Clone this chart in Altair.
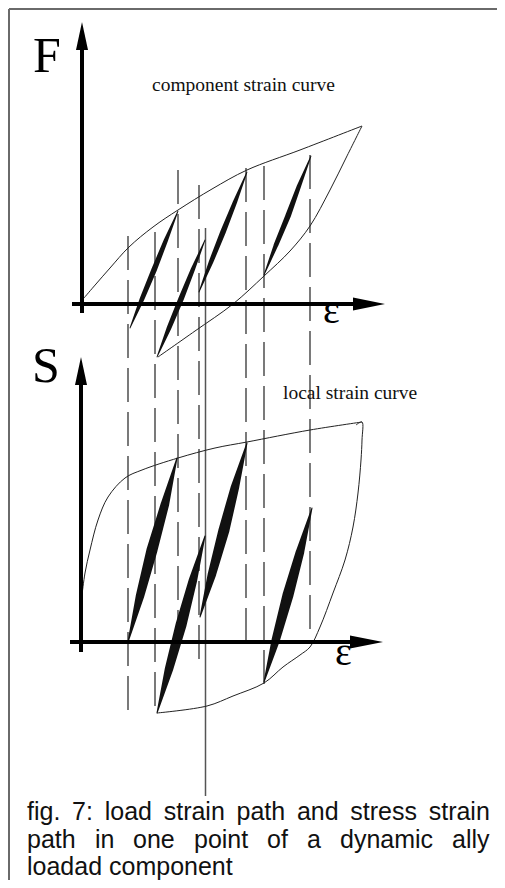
import altair as alt
import pandas as pd

# ---------------------------------------------------------------
# Chart space: one data unit = one pixel of the reference picture
# (x to the right, y downwards), starting at the page margin (8px)
# ---------------------------------------------------------------
X_DOMAIN = [8, 497]
Y_DOMAIN = [8, 880]
W = X_DOMAIN[1] - X_DOMAIN[0]
H = Y_DOMAIN[1] - Y_DOMAIN[0]

# ---- envelope curves (thin solid lines) ------------------------
top_upper_x = [84, 96, 110, 129, 153, 178, 212, 247, 300, 362]
top_upper_y = [298, 284, 268, 247, 227, 210, 189, 170, 150, 126]
top_lower_x = [158, 195, 233, 264, 290, 310, 330, 346, 362]
top_lower_y = [357, 331, 304, 276, 251, 226, 190, 158, 126]
bot_upper_x = [82, 85, 90, 98, 108, 125, 142, 178, 215, 247, 310, 362]
bot_upper_y = [595, 573, 550, 520, 497, 478, 470, 458, 448, 442, 430, 422]
bot_lower_x = [356, 362, 362, 361, 358, 353, 345, 333, 320, 310, 300, 283, 264, 233, 207, 157]
bot_lower_y = [425, 422, 440, 460, 493, 527, 560, 593, 627, 647, 655, 667, 683, 696, 706, 713]

# ---- small hysteresis loops (filled black lenses) --------------
# centre line points and loop width at each point
lens_top1_x = [130, 142, 154, 166, 178]
lens_top1_y = [328, 299, 270, 240, 211]
lens_top2_x = [157, 169, 181, 193, 205]
lens_top2_y = [357, 328, 299, 269, 240]
lens_top3_x = [199, 211, 223, 235, 247]
lens_top3_y = [292, 262, 232, 202, 172]
lens_top4_x = [264, 276, 288, 299, 311]
lens_top4_y = [275, 245, 216, 186, 156]
lens_top_w = [0.8, 4.6, 5.6, 4.3, 0.8]

lens_bot1_x = [128, 140, 152, 165, 177]
lens_bot1_y = [642, 596, 550, 504, 458]
lens_bot2_x = [157, 169, 181, 193, 205]
lens_bot2_y = [713, 669, 625, 580, 536]
lens_bot3_x = [200, 212, 224, 235, 247]
lens_bot3_y = [617, 574, 530, 487, 443]
lens_bot4_x = [264, 276, 288, 300, 312]
lens_bot4_y = [682, 639, 595, 552, 508]
lens_bot_w = [1.0, 8.5, 11.0, 8.5, 1.0]

# ---- axes (shafts and arrow heads) -----------------------------
shaft_x1 = [82, 72, 81, 70]
shaft_y1 = [48, 304, 383, 642]
shaft_x2 = [82, 356, 81, 352]
shaft_y2 = [313, 304, 652, 642]

arrow_up_id = ["F", "F", "S", "S"]
arrow_up_y = [22, 50, 357, 385]
arrow_up_xl = [82, 76, 81, 75]
arrow_up_xr = [82, 88, 81, 87]

arrow_right_id = ["eF", "eF", "eS", "eS"]
arrow_right_x = [353, 385, 350, 383]
arrow_right_yt = [297.5, 304, 635.5, 642]
arrow_right_yb = [310.5, 304, 648.5, 642]

# ---- projection lines ------------------------------------------
dash_x = [128, 155, 178, 199, 246, 264, 310]
dash_top = [236, 232, 170, 185, 168, 166, 155]
dash_bottom = [713, 713, 650, 663, 647, 693, 637]
solid_x = [205.5]
solid_top = [228]
solid_bottom = [796]

# ---- frame -----------------------------------------------------
frame_x1 = [9, 9]
frame_y1 = [9, 9]
frame_x2 = [497, 9]
frame_y2 = [9, 880]

# ---- texts -----------------------------------------------------
big_label = ["F", "S"]
big_label_x = [33, 32]
big_label_y = [72, 382]
eps_label = ["ε", "ε"]
eps_x = [323, 335]
eps_y = [323, 665]
curve_titles = ["component strain curve", "local strain curve"]
curve_titles_x = [152, 283]
curve_titles_y = [91, 399]

caption_words = ["fig.", "7:", "load", "strain", "path", "and", "stress", "strain",
                 "path", "in", "one", "point", "of", "a", "dynamic", "ally",
                 "loadad component"]
caption_x = [27, 72, 104.7, 163.7, 236.5, 296.9, 350.3, 428.7,
             27, 95, 133, 194, 267, 307, 340, 452,
             27]
caption_y = [820] * 8 + [848] * 8 + [875]

# ---------------------------------------------------------------
xs = alt.Scale(domain=X_DOMAIN, nice=False, zero=False)
ys = alt.Scale(domain=Y_DOMAIN, nice=False, zero=False, reverse=True)


def X(f="x"):
    return alt.X(f"{f}:Q", scale=xs, axis=None)


def Y(f="y"):
    return alt.Y(f"{f}:Q", scale=ys, axis=None)


def curve_frame(name, xv, yv):
    return pd.DataFrame({"curve": name, "x": xv, "y": yv, "i": range(len(xv))})


curves = pd.concat([
    curve_frame("top_upper", top_upper_x, top_upper_y),
    curve_frame("top_lower", top_lower_x, top_lower_y),
    curve_frame("bot_upper", bot_upper_x, bot_upper_y),
    curve_frame("bot_lower", bot_lower_x, bot_lower_y),
], ignore_index=True)


def lens_frame(name, xv, yv, wv):
    return pd.DataFrame({"lens": name, "x": xv, "y": yv, "w": wv, "i": range(len(xv))})


lenses = pd.concat([
    lens_frame("t1", lens_top1_x, lens_top1_y, lens_top_w),
    lens_frame("t2", lens_top2_x, lens_top2_y, lens_top_w),
    lens_frame("t3", lens_top3_x, lens_top3_y, lens_top_w),
    lens_frame("t4", lens_top4_x, lens_top4_y, lens_top_w),
    lens_frame("b1", lens_bot1_x, lens_bot1_y, lens_bot_w),
    lens_frame("b2", lens_bot2_x, lens_bot2_y, lens_bot_w),
    lens_frame("b3", lens_bot3_x, lens_bot3_y, lens_bot_w),
    lens_frame("b4", lens_bot4_x, lens_bot4_y, lens_bot_w),
], ignore_index=True)

shafts = pd.DataFrame({"x": shaft_x1, "y": shaft_y1, "x2": shaft_x2, "y2": shaft_y2})
arrows_up = pd.DataFrame({"id": arrow_up_id, "y": arrow_up_y,
                          "xl": arrow_up_xl, "xr": arrow_up_xr})
arrows_right = pd.DataFrame({"id": arrow_right_id, "x": arrow_right_x,
                             "yt": arrow_right_yt, "yb": arrow_right_yb})
dashes = pd.DataFrame({"x": dash_x, "y": dash_top, "y2": dash_bottom})
solid = pd.DataFrame({"x": solid_x, "y": solid_top, "y2": solid_bottom})
frame = pd.DataFrame({"x": frame_x1, "y": frame_y1, "x2": frame_x2, "y2": frame_y2})
big = pd.DataFrame({"t": big_label, "x": big_label_x, "y": big_label_y})
eps = pd.DataFrame({"t": eps_label, "x": eps_x, "y": eps_y})
titles = pd.DataFrame({"t": curve_titles, "x": curve_titles_x, "y": curve_titles_y})
caption = pd.DataFrame({"t": caption_words, "x": caption_x, "y": caption_y})

frame_layer = alt.Chart(frame).mark_rule(color="#6a6a6a", strokeWidth=2).encode(
    x=X(), y=Y(), x2="x2:Q", y2="y2:Q")

dash_layer = alt.Chart(dashes).mark_rule(
    color="#333333", strokeWidth=1.3, strokeDash=[34, 10]).encode(
    x=X(), y=Y(), y2="y2:Q")

solid_layer = alt.Chart(solid).mark_rule(color="#555555", strokeWidth=1.5).encode(
    x=X(), y=Y(), y2="y2:Q")

curve_layer = alt.Chart(curves).mark_line(
    color="#222222", strokeWidth=1, interpolate="catmull-rom").encode(
    x=X(), y=Y(), detail="curve:N", order="i:Q")

lens_layer = alt.Chart(lenses).mark_trail(color="#111111").encode(
    x=X(), y=Y(), detail="lens:N", order="i:Q",
    size=alt.Size("w:Q", scale=None, legend=None))

shaft_layer = alt.Chart(shafts).mark_rule(
    color="#000000", strokeWidth=4, strokeCap="butt").encode(
    x=X(), y=Y(), x2="x2:Q", y2="y2:Q")

arrow_up_layer = alt.Chart(arrows_up).mark_area(
    color="#000000", orient="horizontal").encode(
    y=Y(), x=X("xl"), x2="xr:Q", detail="id:N")

arrow_right_layer = alt.Chart(arrows_right).mark_area(
    color="#000000", orient="vertical").encode(
    x=X(), y=Y("yt"), y2="yb:Q", detail="id:N")

big_layer = alt.Chart(big).mark_text(
    font="Liberation Serif", fontSize=50, align="left", baseline="alphabetic",
    color="#000000").encode(x=X(), y=Y(), text="t:N")

eps_layer = alt.Chart(eps).mark_text(
    font="Liberation Serif", fontSize=40, align="left", baseline="alphabetic",
    color="#000000").encode(x=X(), y=Y(), text="t:N")

title_layer = alt.Chart(titles).mark_text(
    font="Liberation Serif", fontSize=19.5, align="left", baseline="alphabetic",
    color="#111111").encode(x=X(), y=Y(), text="t:N")

caption_layer = alt.Chart(caption).mark_text(
    font="Liberation Sans", fontSize=25, align="left", baseline="alphabetic",
    color="#111111").encode(x=X(), y=Y(), text="t:N")

chart = alt.layer(
    frame_layer, dash_layer, solid_layer, curve_layer, lens_layer,
    shaft_layer, arrow_up_layer, arrow_right_layer,
    big_layer, eps_layer, title_layer, caption_layer,
).properties(
    width=W, height=H, padding=0,
    autosize=alt.AutoSizeParams(type="none"),
).configure_view(stroke=None)

chart.save("out.html", embed_options={"renderer": "svg", "actions": False})
